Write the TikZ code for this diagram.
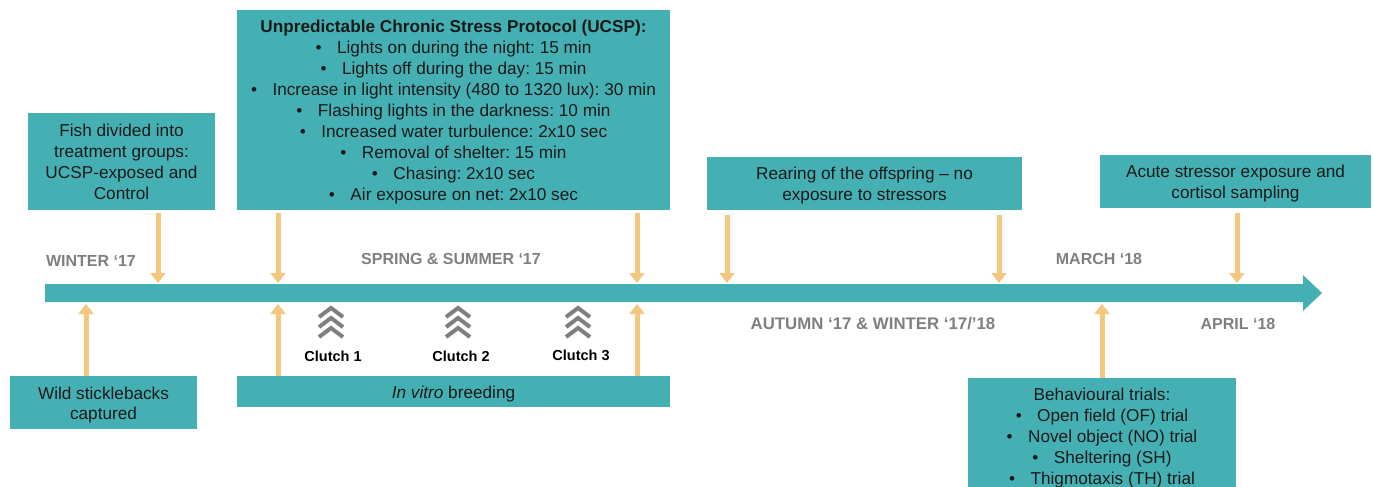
\documentclass[tikz,border=0pt]{standalone}
\usepackage{fontspec}
\setmainfont{Liberation Sans}
\usetikzlibrary{arrows.meta}
\definecolor{teal1}{RGB}{69,176,180}
\definecolor{orng}{RGB}{244,199,126}
\definecolor{grey1}{RGB}{127,127,127}
\definecolor{txt}{RGB}{26,26,26}
\newcommand{\bul}{\textbullet\hspace{0.9em}}
\newcommand{\topstrut}{\rule{0pt}{17pt}}
\frenchspacing
\tikzset{
    box/.style={fill=teal1, text=txt, align=center, inner sep=0pt,
        font=\fontsize{17.2}{21}\selectfont},
    season/.style={text=grey1, font=\bfseries\fontsize{16}{18}\selectfont},
    clutch/.style={text=black, font=\bfseries\fontsize{14.5}{16}\selectfont},
    stim/.style={draw=orng, line width=5pt, -{Triangle[width=15pt,length=10pt]}},
    chev/.style={draw=grey1, line width=4pt, miter limit=4},
}
\begin{document}
\begin{tikzpicture}[x=1pt,y=-1pt]
    \clip (0,0) rectangle (1373,487);
    % time line
    \fill [teal1] (45,284) -- (1303,284) -- (1303,275) -- (1322,293)
        -- (1303,311) -- (1303,302) -- (45,302) -- cycle;

    \node [box, minimum width=187pt, minimum height=97pt] (fish) at (121.5,161.5)
        {Fish divided into\\treatment groups:\\UCSP-exposed and\\Control};
    \node [box, minimum width=433pt, minimum height=200pt] (ucsp) at (453.5,110)
        {\topstrut\textbf{Unpredictable Chronic Stress Protocol (UCSP):}\\
         \bul Lights on during the night: 15 min\\
         \bul Lights off during the day: 15 min\\
         \bul Increase in light intensity (480 to 1320 lux): 30 min\\
         \bul Flashing lights in the darkness: 10 min\\
         \bul Increased water turbulence: 2x10 sec\\
         \bul Removal of shelter: 15 min\\
         \bul Chasing: 2x10 sec\\
         \bul Air exposure on net: 2x10 sec};
    \node [box, minimum width=315pt, minimum height=53pt] (rear) at (864.5,183.5)
        {\topstrut Rearing of the offspring – no\\exposure to stressors};
    \node [box, minimum width=271pt, minimum height=53pt] (acute) at (1235.5,181.5)
        {\topstrut Acute stressor exposure and\\cortisol sampling};
    \node [box, minimum width=187pt, minimum height=53pt,
        font=\fontsize{17.2}{20}\selectfont] (wild) at (103.5,402.5)
        {\topstrut Wild sticklebacks\\captured};
    \node [box, minimum width=433pt, minimum height=31pt] (vitro) at (453.5,391.5)
        {\topstrut\textit{In vitro} breeding};
    \node [box, minimum width=268pt, minimum height=120pt] (behav) at (1102,438)
        {Behavioural trials:\\
         \bul Open field (OF) trial\\
         \bul Novel object (NO) trial\\
         \bul Sheltering (SH)\\
         \bul Thigmotaxis (TH) trial};

    \node [season] (w17)  at (91,261)   {WINTER ‘17};
    \node [season] (ss17) at (451,259)  {SPRING \& SUMMER ‘17};
    \node [season] (m18)  at (1099,259) {MARCH ‘18};
    \node [season, font=\bfseries\fontsize{16.8}{18}\selectfont] (aw18) at (873,324)
        {AUTUMN ‘17 \& WINTER ‘17/’18};
    \node [season] (a18)  at (1238,324) {APRIL ‘18};

    \node [clutch] (c1) at (333,356) {Clutch 1};
    \node [clutch] (c2) at (461,356) {Clutch 2};
    \node [clutch] (c3) at (581,355) {Clutch 3};

    % clutch chevrons
    \foreach \x in {331,458,578}
        \foreach \y in {308,318,328}
            \draw [chev] (\x-12,\y+9) -- (\x,\y) -- (\x+12,\y+9);

    % arrow ends on the time line
    \coordinate (d1) at (158,283);
    \coordinate (d2) at (278,283);
    \coordinate (d3) at (637,283);
    \coordinate (d4) at (727,283);
    \coordinate (d5) at (999,283);
    \coordinate (d6) at (1237,283);
    \coordinate (u1) at (86,304);
    \coordinate (u2) at (278,304);
    \coordinate (u3) at (637,304);
    \coordinate (u4) at (1102,304);

    \draw [stim, shorten <=3pt] (fish.south -| d1) -- (d1);
    \draw [stim, shorten <=3pt] (ucsp.south -| d2) -- (d2);
    \draw [stim, shorten <=3pt] (ucsp.south -| d3) -- (d3);
    \draw [stim, shorten <=5pt] (rear.south -| d4) -- (d4);
    \draw [stim, shorten <=5pt] (rear.south -| d5) -- (d5);
    \draw [stim, shorten <=5pt] (acute.south -| d6) -- (d6);
    \draw [stim] (wild.north -| u1) -- (u1);
    \draw [stim] (vitro.north -| u2) -- (u2);
    \draw [stim] (vitro.north -| u3) -- (u3);
    \draw [stim] (behav.north -| u4) -- (u4);
\end{tikzpicture}
\end{document}
